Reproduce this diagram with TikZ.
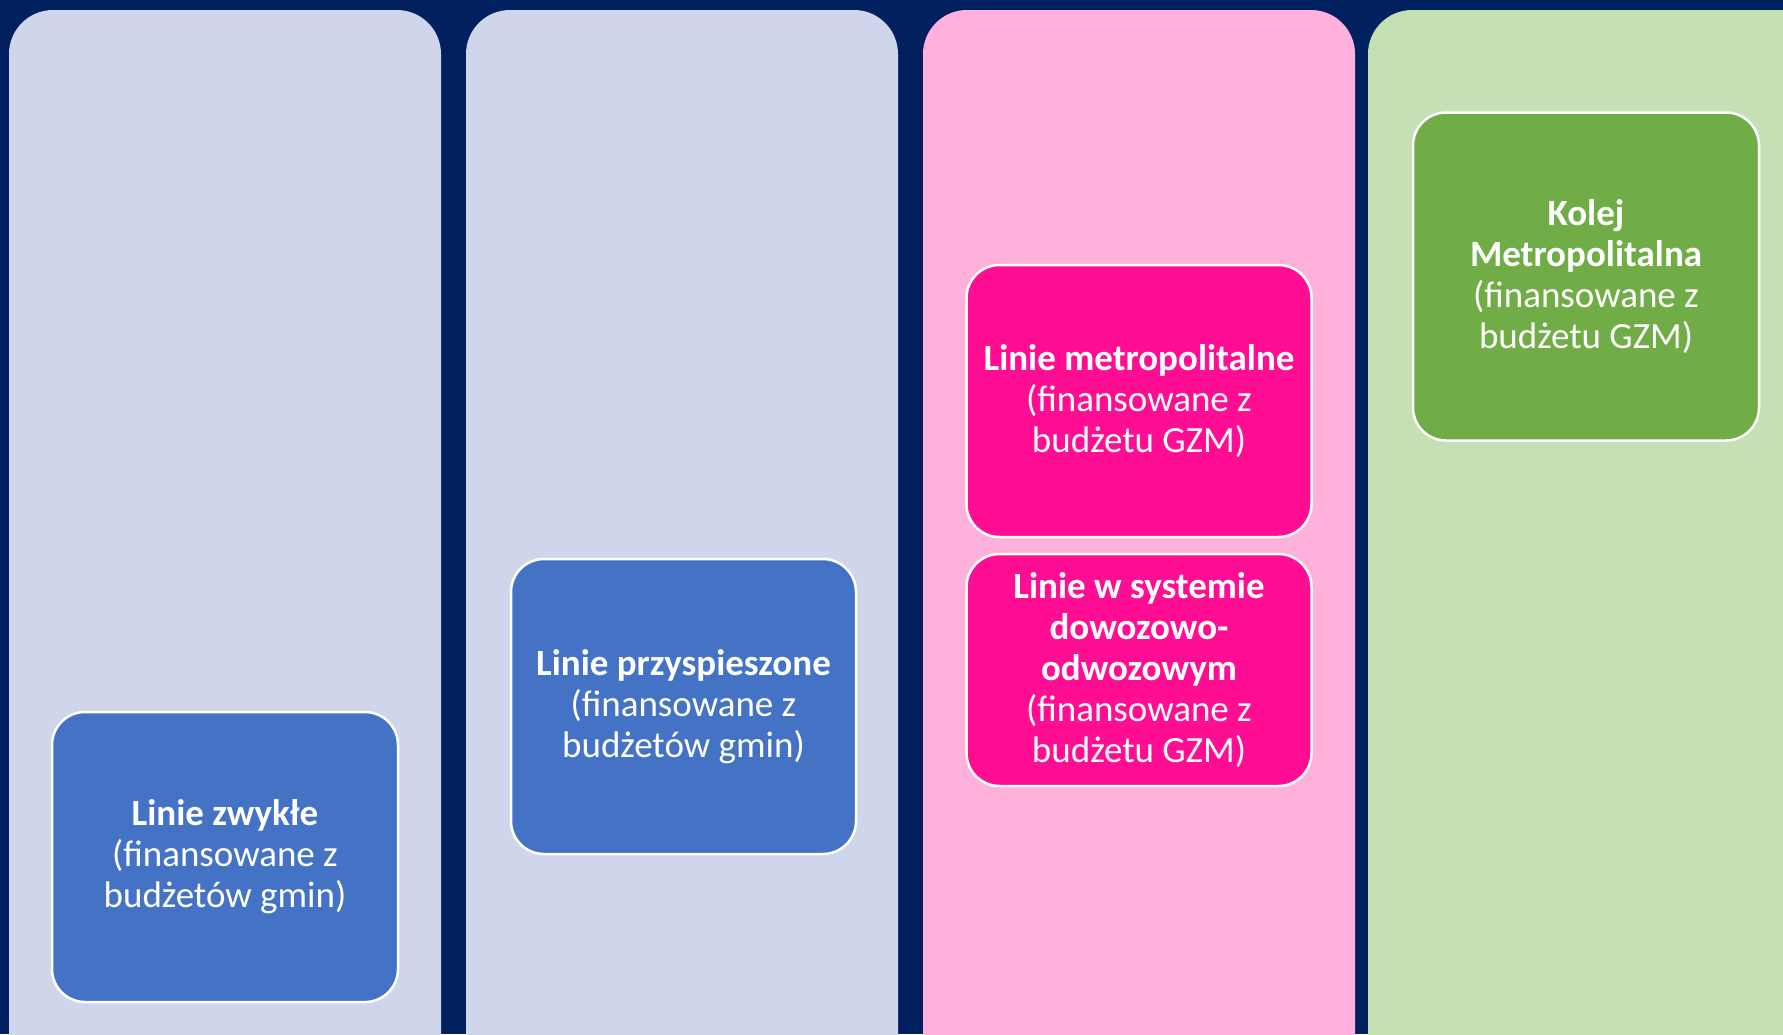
\documentclass[tikz,border=0pt]{standalone}
\usepackage{fontspec}
\setmainfont{Carlito}

\definecolor{navy}{HTML}{002060}
\definecolor{colblue}{HTML}{CFD5EA}
\definecolor{colpink}{HTML}{FFB1DB}
\definecolor{colgreen}{HTML}{C5E0B4}
\definecolor{cardblue}{HTML}{4472C4}
\definecolor{cardpink}{HTML}{FF0E93}
\definecolor{cardgreen}{HTML}{70AD47}

\tikzset{
  column/.style={rounded corners=44pt},
  card/.style={draw=white, line width=2.5pt, rounded corners=33pt,
    text=white, align=center, inner sep=0pt,
    font=\fontsize{37}{41}\selectfont}
}

\begin{document}
\begin{tikzpicture}[x=1pt,y=-1pt]
    % Background
    \useasboundingbox (0,0) rectangle (1783,1034);
    \clip (0,0) rectangle (1783,1034);
    \fill[navy] (0,0) rectangle (1783,1034);

    % Columns
    \fill[column, colblue] (9,10) rectangle (441,1080);
    \fill[column, colblue] (466,10) rectangle (898,1080);
    \fill[column, colpink] (923,10) rectangle (1355,1080);
    \fill[column, colgreen] (1368,10) rectangle (1830,1080);

    % Bus lines (municipal budgets)
    \node[card, fill=cardblue, minimum width=346pt, minimum height=290pt]
        (zwykle) at (225,857) {\textbf{Linie zwykłe}\\(finansowane z\\budżetów gmin)};
    \node[card, fill=cardblue, minimum width=345pt, minimum height=295pt]
        (przysp) at (683.5,706.5) {\textbf{Linie przyspieszone}\\(finansowane z\\budżetów gmin)};

    % Bus lines (GZM budget)
    \node[card, fill=cardpink, minimum width=345pt, minimum height=272pt]
        (metro) at (1139,401) {\textbf{Linie metropolitalne}\\(finansowane z\\budżetu GZM)};
    \node[card, fill=cardpink, minimum width=345pt, minimum height=232pt]
        (dowoz) at (1139,670) {\textbf{Linie w systemie}\\\textbf{dowozowo-}\\\textbf{odwozowym}\\(finansowane z\\budżetu GZM)};

    % Rail
    \node[card, fill=cardgreen, minimum width=346pt, minimum height=328pt]
        (kolej) at (1586,276.5) {\textbf{Kolej}\\\textbf{Metropolitalna}\\(finansowane z\\budżetu GZM)};
\end{tikzpicture}
\end{document}
